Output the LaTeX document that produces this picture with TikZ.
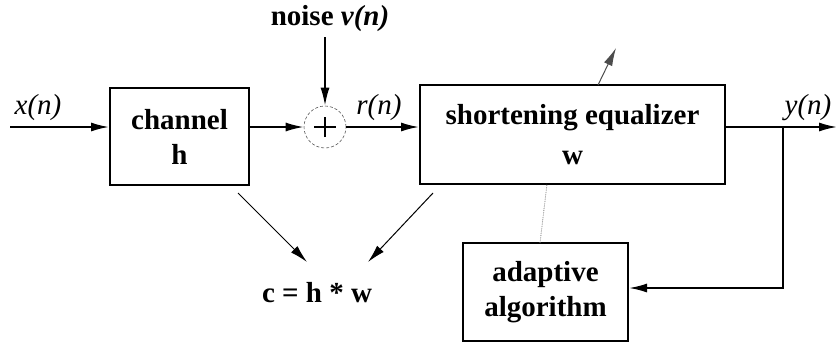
\documentclass[tikz,border=0pt]{standalone}
\usepackage{fontspec}
\setmainfont{Liberation Serif}
\usetikzlibrary{arrows.meta}
\begin{document}
\begin{tikzpicture}[x=1pt,y=-1pt,
  blk/.style={draw,line width=2pt,inner sep=0pt,align=center,font=\fontsize{29}{35}\selectfont\bfseries},
  sig/.style={line width=1.8pt,-{Latex[length=18pt,width=9pt]}},
  thin/.style={line width=1pt,-{Latex[length=18pt,width=9pt]}},
  lbl/.style={font=\fontsize{29}{33}\selectfont\itshape,inner sep=0pt},
  txt/.style={font=\fontsize{29}{33}\selectfont\bfseries,inner sep=0pt}]
\useasboundingbox (0,0) rectangle (837,343);
% blocks
\node[blk,minimum width=139pt,minimum height=97pt] (ch) at (179.5,136.5) {channel\\h};
\node[blk,minimum width=305pt,minimum height=99pt,font=\fontsize{29}{40}\selectfont\bfseries] (eq) at (572.5,134.5) {shortening equalizer\\w};
\node[blk,minimum width=165pt,minimum height=98pt] (ad) at (545.5,292) {adaptive\\algorithm};
\node[draw,circle,densely dashed,line width=0.6pt,gray!70!black,minimum size=42pt,inner sep=0pt] (sum) at (325,127) {};
\draw[line width=1.8pt] ([xshift=-11pt]sum.center) -- ([xshift=11pt]sum.center)
  ([yshift=-10pt]sum.center) -- ([yshift=10pt]sum.center);
% labels
\node[txt] (noise) at (330,19) {noise \textit{v(n)}};
\node[lbl] (xl) at (38,108) {x(n)};
\node[lbl] (rl) at (379,108) {r(n)};
\node[lbl] (yl) at (808,108) {y(n)};
\node[txt] (cc) at (317,293) {c = h * w};
% coordinates
\coordinate (in) at (10,127);
\coordinate (nz) at (325,37);
\coordinate (jn) at (783,127);
\coordinate (out) at (837,127);
\coordinate (fb) at (783,288);
\coordinate (ad1) at (540,243);
\coordinate (eq1) at (547,184);
\coordinate (at1) at (598,85);
\coordinate (at2) at (616,48);
% connectors
\draw[sig] (in) -- (ch.west |- in);
\draw[sig] (ch.east |- in) -- (sum.west);
\draw[sig] (nz) -- (sum.north);
\draw[sig] (sum.east) -- (eq.west |- sum);
\draw[line width=1.8pt] (eq.east |- jn) -- (jn);
\draw[sig] (jn) -- (out);
\draw[sig] (jn) -- (fb) -- (ad.east |- fb);
\draw[line width=0.8pt,densely dotted,gray] (ad1) -- (eq1);
\draw[thin,gray!60!black] (at1) -- (at2);
\coordinate (c1) at (238,193);
\coordinate (c2) at (307,262);
\coordinate (c3) at (433,193);
\coordinate (c4) at (368,262);
\draw[thin] (c1) -- (c2);
\draw[thin] (c3) -- (c4);
\end{tikzpicture}
\end{document}
